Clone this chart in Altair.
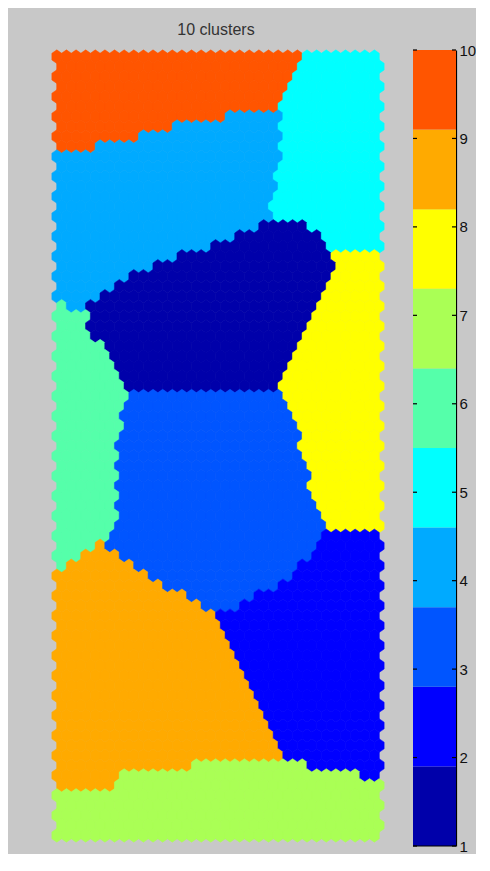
import altair as alt
import pandas as pd

# ---------------- data ----------------
CLUSTER_IDS = [1, 2, 3, 4, 5, 6, 7, 8, 9, 10]
CLUSTER_COLORS = ["#0000AA", "#0000FF", "#0055FF", "#00AAFF", "#00FFFF",
                  "#55FFAA", "#AAFF55", "#FFFF00", "#FFAA00", "#FF5500"]
COLORBAR_EDGES = [1.0, 1.9, 2.8, 3.7, 4.6, 5.5, 6.4, 7.3, 8.2, 9.1, 10.0]
COLORBAR_TICKS = [1, 2, 3, 4, 5, 6, 7, 8, 9, 10]
TITLE = "10 clusters"

N_COLS = 34
N_ROWS = 79
MAP_X = [50, 382]
MAP_Y = [50, 842]

# cluster regions, outline vertices in map units (x right, y down)
REGION_10 = [(30, 30), (307, 30), (280, 108), (190, 122), (118, 140), (47, 157), (30, 157)]
REGION_5 = [(307, 30), (400, 30), (400, 253), (335, 253), (303, 221), (266, 221),
            (275, 190), (277, 150), (280, 108)]
REGION_4 = [(30, 157), (47, 157), (118, 140), (190, 122), (280, 108), (277, 150), (275, 190),
            (266, 221), (243, 232), (213, 243), (183, 255), (153, 265), (123, 277),
            (100, 292), (85, 307), (30, 305)]
REGION_1 = [(85, 307), (100, 292), (123, 277), (153, 265), (183, 255), (213, 243), (243, 232),
            (266, 221), (303, 221), (335, 253), (310, 313), (287, 367), (275, 392),
            (128, 392), (110, 362), (85, 325)]
REGION_8 = [(335, 253), (400, 253), (400, 530), (328, 530), (310, 495), (300, 445),
            (275, 392), (287, 367), (310, 313)]
REGION_6 = [(30, 305), (85, 307), (85, 325), (110, 362), (128, 392), (118, 420), (115, 530),
            (100, 543), (60, 570), (30, 578)]
REGION_3 = [(128, 392), (275, 392), (300, 445), (310, 495), (328, 530), (285, 580),
            (215, 615), (160, 583), (100, 543), (115, 530), (118, 420)]
REGION_2 = [(328, 530), (400, 530), (400, 782), (330, 770), (300, 765), (282, 757),
            (250, 690), (215, 615), (285, 580)]
REGION_9 = [(30, 578), (60, 570), (100, 543), (160, 583), (215, 615), (250, 690), (282, 757),
            (205, 757), (200, 765), (120, 768), (115, 790), (30, 790)]
REGION_7 = [(30, 790), (115, 790), (120, 768), (200, 765), (205, 757), (282, 757), (300, 765),
            (330, 770), (400, 782), (400, 860), (30, 860)]

REGIONS = [(10, REGION_10), (5, REGION_5), (4, REGION_4), (1, REGION_1), (8, REGION_8),
           (6, REGION_6), (3, REGION_3), (2, REGION_2), (9, REGION_9), (7, REGION_7)]


def inside(px, py, poly):
    res = False
    n = len(poly)
    j = n - 1
    for i in range(n):
        xi, yi = poly[i]
        xj, yj = poly[j]
        if (yi > py) != (yj > py):
            xc = xi + (py - yi) * (xj - xi) / (yj - yi)
            if px < xc:
                res = not res
        j = i
    return res


cw = (MAP_X[1] - MAP_X[0]) / (N_COLS + 0.5)
rs = (MAP_Y[1] - MAP_Y[0]) / (N_ROWS + 1.0 / 3.0)
hh = rs * 4.0 / 3.0

rows = []
for r in range(N_ROWS):
    for c in range(N_COLS):
        x = MAP_X[0] + cw * (c + 0.5 + (0.5 if r % 2 == 1 else 0.0))
        y = MAP_Y[0] + hh / 2 + r * rs
        k = 7
        for cid, poly in REGIONS:
            if inside(x, y, poly):
                k = cid
                break
        rows.append({"x": x, "y": y, "cluster": k})
cells = pd.DataFrame(rows)

MAP_W = MAP_X[1] - MAP_X[0]
MAP_H = MAP_Y[1] - MAP_Y[0]
CB_W = 43
CB_H = 796

SYM = 196
unit = (SYM ** 0.5) / 2.0
hx = (cw / 2 + 0.15) / unit
hy = (hh / 2 + 0.15) / unit
qy = (hh / 4) / unit
hex_path = (f"M0,{-hy:.3f}L{hx:.3f},{-qy:.3f}L{hx:.3f},{qy:.3f}L0,{hy:.3f}"
            f"L{-hx:.3f},{qy:.3f}L{-hx:.3f},{-qy:.3f}Z")

cscale = alt.Scale(domain=CLUSTER_IDS, range=CLUSTER_COLORS)
FONT = "Liberation Sans Narrow, Liberation Sans, Arial, sans-serif"

hexes = alt.Chart(cells).mark_point(
    shape=hex_path, filled=True, size=SYM, opacity=1, strokeWidth=0.5
).encode(
    x=alt.X("x:Q", scale=alt.Scale(domain=MAP_X, nice=False, zero=False), axis=None),
    y=alt.Y("y:Q", scale=alt.Scale(domain=MAP_Y, nice=False, zero=False, reverse=True), axis=None),
    fill=alt.Fill("cluster:O", scale=cscale, legend=None),
    stroke=alt.Stroke("cluster:O", scale=cscale, legend=None),
)

title = alt.Chart(pd.DataFrame({"t": [TITLE]})).mark_text(
    fontSize=16, color="#333333", font="Liberation Sans, Arial, sans-serif"
).encode(text="t:N", x=alt.value(MAP_W / 2 - 2), y=alt.value(-20))

map_panel = alt.layer(hexes, title).properties(width=MAP_W, height=MAP_H)

cb_df = pd.DataFrame({
    "lo": COLORBAR_EDGES[:-1],
    "hi": COLORBAR_EDGES[1:],
    "cluster": CLUSTER_IDS,
})
tick_df = pd.DataFrame({"v": COLORBAR_TICKS})

cb_y = alt.Scale(domain=[1, 10], nice=False, zero=False)
blocks = alt.Chart(cb_df).mark_rect().encode(
    y=alt.Y("lo:Q", scale=cb_y,
            axis=alt.Axis(orient="right", values=COLORBAR_TICKS, format="d", tickSize=0,
                          labelPadding=3, domainColor="black", domainWidth=1.2,
                          labelColor="#111111", labelFontSize=15, labelFont=FONT,
                          title=None, grid=False)),
    y2="hi:Q",
    x=alt.value(0), x2=alt.value(CB_W),
    fill=alt.Fill("cluster:O", scale=cscale, legend=None),
)
ticks_l = alt.Chart(tick_df).mark_rule(color="black", strokeWidth=1.2).encode(
    y=alt.Y("v:Q", scale=cb_y), x=alt.value(0), x2=alt.value(4))
ticks_r = alt.Chart(tick_df).mark_rule(color="black", strokeWidth=1.2).encode(
    y=alt.Y("v:Q", scale=cb_y), x=alt.value(CB_W - 4), x2=alt.value(CB_W))
bottom = alt.Chart(pd.DataFrame({"v": [COLORBAR_TICKS[0]]})).mark_rule(color="black", strokeWidth=1.2).encode(
    y=alt.Y("v:Q", scale=cb_y), x=alt.value(0), x2=alt.value(CB_W))

cb_panel = alt.layer(blocks, ticks_l, ticks_r, bottom).properties(width=CB_W, height=CB_H)

chart = alt.hconcat(map_panel, cb_panel, spacing=29, bounds="flush").properties(
    background="#c8c8c8",
    padding={"left": 42, "top": 14, "right": 0, "bottom": 0},
).configure_view(stroke=None)

chart.save("out.html", embed_options={"renderer": "svg", "actions": False})
